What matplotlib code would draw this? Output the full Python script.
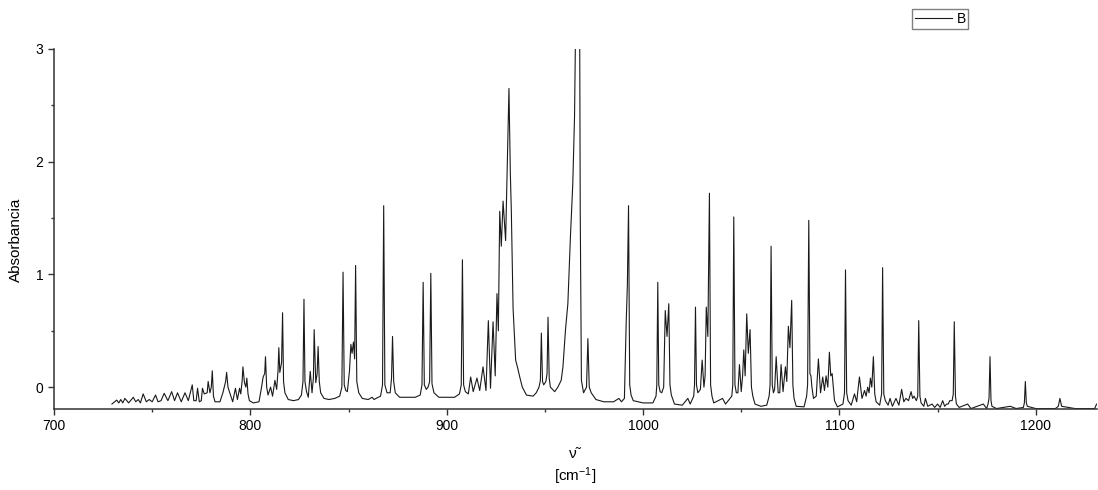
import matplotlib
matplotlib.use('Agg')
import matplotlib.pyplot as plt
from matplotlib.ticker import MultipleLocator

plt.rcParams['font.family'] = ['Liberation Sans', 'DejaVu Sans']
plt.rcParams['mathtext.default'] = 'regular'

# spectrum, (wavenumber cm-1, absorbance) pairs
seg_730_820 = [
    (729.5, -0.15), (731.9, -0.115), (733, -0.14), (734, -0.11), (735, -0.14),
    (736.1, -0.10), (738, -0.14), (740.4, -0.09), (741.6, -0.13), (742.9, -0.11),
    (744, -0.14), (745.4, -0.06), (747, -0.13), (748.5, -0.11), (750, -0.13),
    (751.7, -0.07), (753, -0.13), (754.5, -0.12), (756.1, -0.055), (758, -0.12),
    (759.9, -0.04), (761.4, -0.12), (762.9, -0.05), (764.8, -0.13), (766.7, -0.05),
    (768.4, -0.12), (770.4, 0.02), (771.2, -0.12), (772.4, -0.12), (773.1, -0.01),
    (774.0, -0.13), (775.0, -0.12), (775.6, -0.01), (776.5, -0.06), (778.0, -0.05),
    (778.5, 0.05), (779.4, -0.05), (780.1, 0.0), (780.6, 0.145), (781.2, -0.08),
    (782, -0.13), (784.5, -0.13), (786, -0.05), (787.4, 0.05), (787.9, 0.13),
    (788.6, 0.0), (789.5, -0.05), (791, -0.13), (792.4, -0.01), (793.4, -0.11),
    (794.5, -0.01), (795.1, -0.06), (795.8, 0.05), (796.2, 0.18), (797.0, 0.04),
    (797.7, 0.0), (798.2, 0.08), (798.8, -0.06), (799.5, -0.12), (801.5, -0.14),
    (804.4, -0.13), (805.7, 0.0), (806.5, 0.09), (807.3, 0.12), (807.7, 0.27),
    (808.3, 0.0), (809, -0.07), (810.3, 0.0), (811.3, -0.08), (812.5, 0.06),
    (813.4, -0.02), (814.1, 0.15), (814.5, 0.35), (815.0, 0.13), (815.9, 0.22),
    (816.4, 0.66), (816.9, 0.05), (817.6, -0.05), (819.3, -0.11),
]
seg_820_880 = [
    (822, -0.12), (824.5, -0.11), (826, -0.07), (826.8, 0.05), (827.3, 0.78),
    (827.8, 0.05), (828.6, -0.04), (829.5, -0.09), (830.5, 0.14), (831.4, -0.05),
    (832.1, 0.08), (832.5, 0.51), (833.3, 0.04), (834.0, 0.12), (834.5, 0.36),
    (835.1, 0.05), (835.8, -0.05), (837.5, -0.10), (840, -0.11), (843, -0.10),
    (845.5, -0.08), (846.6, 0.0), (847.2, 1.02), (847.8, 0.02), (848.6, -0.03),
    (849.4, -0.04), (850.5, 0.15), (851.2, 0.38), (851.8, 0.30), (852.5, 0.40),
    (853.1, 0.25), (853.6, 1.08), (854.2, 0.05), (855.2, -0.05), (857, -0.10),
    (860, -0.11), (862, -0.09), (863, -0.11), (864, -0.10), (866.3, -0.08),
    (867.3, 0.02), (867.9, 1.61), (868.5, 0.02), (869.6, -0.05), (871.2, -0.05),
    (871.9, 0.08), (872.4, 0.45), (873.0, 0.05), (873.8, -0.05), (876, -0.09),
]
seg_880_976 = [
    (880, -0.09), (884, -0.09), (886.5, -0.07), (887.4, 0.02), (888, 0.93),
    (888.6, 0.02), (889.6, -0.02), (890.5, 0.0), (891.3, 0.05), (891.9, 1.01),
    (892.5, 0.03), (893.5, -0.05), (896, -0.09), (900, -0.09), (904, -0.09),
    (906.5, -0.06), (907.4, 0.02), (908, 1.13), (908.6, 0.02), (909.5, -0.04),
    (911, -0.06), (912.2, 0.09), (913.5, -0.04), (915.4, 0.08), (916.8, -0.03),
    (918.5, 0.18), (920, -0.03), (921.2, 0.59), (922.3, -0.01), (923.6, 0.58),
    (924.7, 0.10), (925.6, 0.83), (926.3, 0.50), (927, 1.56), (927.8, 1.25),
    (928.7, 1.65), (930, 1.30), (931.7, 2.65), (932.4, 1.90), (932.9, 1.57),
    (933.8, 0.70), (935.1, 0.24), (936, 0.18), (937.2, 0.09), (938.5, 0.0),
    (940.6, -0.07), (944, -0.08), (945.6, -0.05), (947, 0.0), (947.7, 0.06),
    (948.2, 0.48), (948.8, 0.05), (949.4, 0.02), (950.5, 0.05), (951.1, 0.12),
    (951.6, 0.62), (952.2, 0.08), (952.8, 0.0), (955, -0.04), (956.6, 0.0),
    (958.3, 0.06), (959.2, 0.18), (960.5, 0.51), (961.7, 0.74), (963, 1.33),
    (964.2, 1.80), (965.1, 2.40), (965.7, 3.30), (967.7, 3.30), (968.0, 1.57),
    (968.6, 0.06), (969.7, -0.05), (971.2, 0.0), (971.9, 0.43), (972.6, 0.0),
    (973.6, -0.05), (976, -0.11),
]
seg_976_1082 = [
    (980, -0.13), (985, -0.13), (987.7, -0.10), (989, -0.13), (990.5, -0.10),
    (991.4, 0.57), (992.0, 0.90), (992.6, 1.61), (993.2, 0.02), (993.9, -0.07),
    (995, -0.12), (1000, -0.14), (1005, -0.14), (1006.6, -0.08), (1007.0, 0.02),
    (1007.5, 0.93), (1008.0, 0.02), (1008.7, -0.04), (1009.5, -0.05), (1010.5, 0.0),
    (1011.3, 0.68), (1012.2, 0.45), (1013.1, 0.74), (1013.7, 0.02), (1014.4, -0.07),
    (1016, -0.15), (1020, -0.16), (1022.8, -0.10), (1024, -0.15), (1025.8, -0.08),
    (1026.2, 0.02), (1026.7, 0.71), (1027.2, 0.02), (1027.9, -0.05), (1029.2, -0.02),
    (1030.1, 0.24), (1031, 0.0), (1031.6, 0.10), (1032.2, 0.71), (1033, 0.45),
    (1033.8, 1.72), (1034.4, 0.02), (1035.1, -0.08), (1036, -0.14), (1040.5, -0.10),
    (1042, -0.15), (1045.2, -0.08), (1045.7, 0.02), (1046.2, 1.51), (1046.8, 0.02),
    (1047.5, -0.05), (1048.3, -0.05), (1049.1, 0.20), (1050, -0.04), (1050.7, 0.10),
    (1051.3, 0.33), (1052.0, 0.10), (1052.8, 0.65), (1053.6, 0.30), (1054.5, 0.51),
    (1055.2, 0.0), (1055.9, -0.08), (1057, -0.15), (1060, -0.17), (1063, -0.16),
    (1064.2, -0.08), (1064.7, 0.02), (1065.2, 1.25), (1065.8, 0.02), (1066.4, -0.05),
    (1067.0, -0.02), (1067.8, 0.27), (1068.8, -0.05), (1069.6, -0.05), (1070.3, 0.20),
    (1071.3, -0.04), (1072.5, 0.18), (1073.2, 0.05), (1074, 0.54), (1074.8, 0.35),
    (1075.7, 0.77), (1076.3, 0.02), (1076.9, -0.10), (1078, -0.17), (1082, -0.175),
]
seg_1082_1231 = [
    (1083.3, -0.08), (1083.8, 0.02), (1084.4, 1.48), (1085.0, 0.12), (1085.5, 0.10),
    (1086, 0.0), (1086.8, -0.10), (1088.2, -0.08), (1089.3, 0.25), (1090.4, -0.05),
    (1091.5, 0.09), (1092.4, -0.03), (1093.2, 0.10), (1094.1, 0.0), (1094.9, 0.31),
    (1095.6, 0.10), (1096.3, 0.12), (1097.5, -0.12), (1099, -0.175), (1101.8, -0.15),
    (1102.6, -0.05), (1103.1, 1.04), (1103.7, -0.05), (1104.4, -0.12), (1106, -0.16),
    (1107.7, -0.06), (1108.8, -0.13), (1110.2, 0.09), (1111.5, -0.10), (1112.8, -0.03),
    (1113.6, -0.08), (1114.4, 0.0), (1115.1, -0.05), (1115.8, 0.08), (1116.5, 0.0),
    (1117.3, 0.27), (1118.0, -0.06), (1118.7, -0.13), (1120.5, -0.16), (1121.5, -0.06),
    (1122, 1.06), (1122.6, -0.06), (1123.4, -0.12), (1124.8, -0.16), (1125.8, -0.10),
    (1127, -0.17), (1128.8, -0.10), (1130.3, -0.16), (1131.7, -0.02), (1132.8, -0.13),
    (1133.9, -0.10), (1135.2, -0.12), (1136.5, -0.04), (1137.3, -0.10), (1138, -0.08),
    (1139.2, -0.12), (1139.9, -0.08), (1140.4, 0.59), (1141.0, -0.08), (1141.6, -0.14),
    (1143, -0.17), (1143.8, -0.10), (1145, -0.17), (1147.2, -0.15), (1148.5, -0.18),
    (1150, -0.15), (1151.3, -0.18), (1152.6, -0.12), (1153.6, -0.17), (1154.6, -0.15),
    (1155.4, -0.15), (1156.2, -0.12), (1157.4, -0.12), (1158.0, -0.06), (1158.5, 0.58),
    (1159.1, -0.08), (1159.6, -0.15), (1161, -0.18), (1165.3, -0.15), (1167, -0.19),
    (1173.3, -0.15), (1175, -0.19), (1175.7, -0.15), (1176.2, -0.10), (1176.7, 0.27),
    (1177.2, -0.12), (1177.7, -0.17), (1180, -0.19), (1187, -0.17), (1190, -0.19),
    (1193.7, -0.18), (1194.2, -0.14), (1194.7, 0.05), (1195.2, -0.14), (1195.7, -0.17),
    (1200, -0.19), (1210, -0.19), (1211.5, -0.17), (1212.3, -0.10), (1213.2, -0.17),
    (1220, -0.19), (1230, -0.19), (1231, -0.15),
]

points = seg_730_820 + seg_820_880 + seg_880_976 + seg_976_1082 + seg_1082_1231
wavenumber = [p[0] for p in points]
absorbance = [p[1] for p in points]

fig = plt.figure(figsize=(10.98, 4.90), dpi=100)
ax = fig.add_axes([0.0492, 0.1653, 0.9499, 0.7347])

ax.plot(wavenumber, absorbance, color='#1a1a1a', lw=0.8, label='B')

ax.set_xlim(700, 1231.2)
ax.set_ylim(-0.194, 3.0)
ax.xaxis.set_major_locator(MultipleLocator(100))
ax.xaxis.set_minor_locator(MultipleLocator(50))
ax.yaxis.set_major_locator(MultipleLocator(1))
ax.yaxis.set_minor_locator(MultipleLocator(0.5))

for side in ['top', 'right']:
    ax.spines[side].set_visible(False)
for side in ['left', 'bottom']:
    ax.spines[side].set_linewidth(1.1)
    ax.spines[side].set_color('#333333')

ax.tick_params(which='major', direction='out', length=4.5, width=1.0,
               color='#333333', labelsize=10, pad=3)
ax.tick_params(which='minor', direction='out', length=2.5, width=1.0,
               color='#333333')

ax.set_ylabel('Absorbancia', fontsize=11)
ax.yaxis.set_label_coords(-0.03, 0.47)
ax.set_xlabel('ν˜\n[cm$^{-1}$]', fontsize=11, linespacing=1.3)
ax.xaxis.set_label_coords(0.5, -0.105)

fig.legend(loc='upper left', bbox_to_anchor=(0.8306, 0.9816), fontsize=10,
           fancybox=False, edgecolor='#808080', framealpha=1,
           handlelength=2.7, handletextpad=0.3, borderpad=0.2,
           borderaxespad=0)

plt.savefig('out.png', dpi=100)
